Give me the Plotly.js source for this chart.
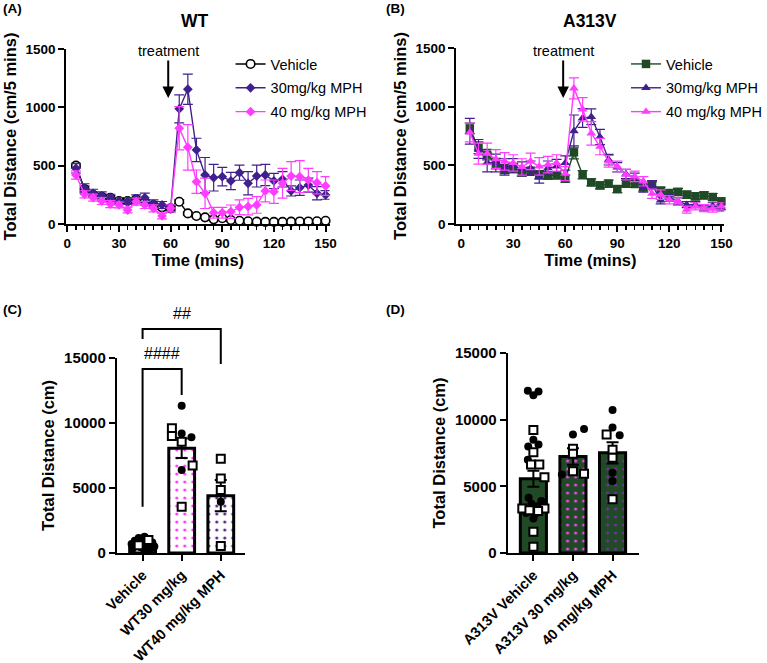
<!DOCTYPE html>
<html><head><meta charset="utf-8">
<script src="https://cdn.plot.ly/plotly-3.0.1.min.js"></script>
<style>html,body{margin:0;padding:0;background:#fff}#chart{width:767px;height:663px}</style>
</head><body><div id="chart"></div>
<script>
// ---------- DATA ----------
const time = [5,10,15,20,25,30,35,40,45,50,55,60,65,70,75,80,85,90,95,100,105,110,115,120,125,130,135,140,145,150];

// Panel A (WT)
const wtVehicle    = [500,300,250,234,225,197,197,211,191,163,143,134,191,91,69,57,40,49,34,28,23,20,18,18,18,20,22,22,24,28];
const wtVehicleSem = [20,25,20,20,18,18,18,18,18,15,15,15,15,12,10,10,8,8,6,6,5,5,5,5,5,5,5,5,5,5];
const wt30         = [477,305,263,240,225,197,197,214,225,171,163,134,987,1155,635,420,397,406,369,440,349,411,420,369,383,283,311,334,263,249];
const wt30Sem      = [40,40,35,35,30,30,30,35,40,35,30,30,120,130,100,150,114,80,74,65,100,94,91,65,66,43,66,60,57,37];
const wt40         = [420,254,226,197,171,163,120,191,163,134,69,134,821,657,363,263,97,97,106,143,149,163,283,277,349,411,406,377,354,326];
const wt40Sem      = [35,30,30,30,30,25,25,30,30,30,25,30,185,195,100,130,46,46,57,63,71,71,94,100,128,123,137,100,95,80];

// Panel B (A313V)
const aVehicle    = [815,650,591,514,469,477,443,449,420,412,415,386,611,420,355,329,344,298,344,341,312,329,284,264,273,250,236,244,230,193];
const aVehicleSem = [45,50,45,45,40,40,35,35,35,30,30,30,56,35,30,30,30,30,30,30,30,30,30,30,30,30,30,30,30,30];
const a30         = [790,640,525,520,486,497,469,477,398,477,491,520,792,903,914,742,548,483,426,398,307,335,202,222,193,165,165,136,156,136];
const a30Sem      = [110,80,80,75,70,60,60,60,50,60,60,60,137,80,67,65,45,40,40,35,35,35,30,30,30,25,25,25,25,25];
const a40         = [780,600,600,554,534,520,486,534,491,506,520,429,1156,977,773,660,534,491,420,406,364,258,250,207,193,122,151,136,131,151];
const a40Sem      = [80,90,90,80,75,70,70,70,75,70,70,60,90,100,100,70,50,45,45,45,40,40,40,35,35,30,30,30,30,30];

const seriesNames = ['Vehicle','30mg/kg MPH','40 mg/kg MPH'];

// Panel C (WT totals)
const wtGroups = ['Vehicle','WT30 mg/kg','WT40 mg/kg MPH'];
const wtMeans  = [650, 8050, 4410];
const wtSems   = [80, 750, 1200];
const wtVehVals    = [1250,1150,1000,950,850,800,700,650,600,500,450,350,300,200];
const wtVehShapes  = ['c','c','s','c','c','c','c','c','s','c','c','c','c','c'];
const wtVehOffsets = [0.05,-0.1,0.15,-0.2,0.0,0.25,-0.28,0.12,-0.1,0.3,-0.05,-0.25,0.2,0.05];
const wt30Vals    = [11330,9590,9000,8560,9200,8900,6380,6740,3560];
const wt30Shapes  = ['c','s','s','s','c','c','c','s','s'];
const wt30Offsets = [0,-0.25,-0.25,0,0,0.25,0,0.28,0];
const wt40Vals    = [7250,5740,4850,3950,540];
const wt40Shapes  = ['s','s','s','c','s'];
const wt40Offsets = [0,0,0,0,0];
// significance brackets
const brackets = [
  {a:0, b:1, top:14150, leftEnd:3560,  rightEnd:12150, label:'####', labelY:15380},
  {a:0, b:2, top:17230, leftEnd:16460, rightEnd:14530, label:'##',   labelY:18460}
];

// Panel D (A313V totals)
const aGroups = ['A313V Vehicle','A313V 30 mg/kg','40 mg/kg MPH'];
const aMeans  = [5570, 7240, 7510];
const aSems   = [600, 620, 790];
const aVehVals    = [12160,12110,11840,9230,8500,7980,8130,7560,6990,6640,6640,5690,4150,3900,3700,3500,3330,3330,3200,3150,3000,2950,2590,1590,470];
const aVehShapes  = ['c','c','c','s','c','c','c','s','c','s','s','s','c','c','c','c','s','s','s','s','c','c','c','s','s'];
const aVehOffsets = [-0.14,0.13,0,0,0,-0.13,0.13,0,-0.14,-0.06,0.15,0.28,-0.12,0.2,-0.05,0.1,-0.28,0.28,-0.1,0.12,-0.18,0.05,0,0,0];
const a30Vals    = [9300,8880,7810,7440,6140,5950,5890];
const a30Shapes  = ['c','c','s','s','s','s','c'];
const a30Offsets = [0.28,0,0,0,0,0.28,-0.28];
const a40Vals    = [10720,9420,8880,8830,7740,7140,6020,5400,4030];
const a40Shapes  = ['c','c','s','c','s','s','c','c','s'];
const a40Offsets = [0,0,-0.15,0.18,0,0,0,0,0];

// ---------- STYLE ----------
const W = 767, H = 663;
const FONT = 'Liberation Sans, Arial, sans-serif';
const PURPLE = '#40208c', MAGENTA = '#ff3cff', GREEN = '#1f4a25';
const px = v => v / W, py = v => 1 - v / H;

const traces = [];
function lineTrace(y, sem, name, color, symbol, size, xa, ya, legend, fill, lineColor) {
  return {
    type:'scatter', mode:'lines+markers', x: time, y: y, name: name,
    xaxis: xa, yaxis: ya, legend: legend, legendgroup: legend + name,
    line:{color: lineColor || color, width:1.4},
    marker:{symbol: symbol, size: size, color: fill || color, line:{color: lineColor || color, width: fill ? 1.6 : 0}},
    error_y:{type:'data', array: sem, color: lineColor || color, thickness:1.2, width:5},
    cliponaxis:false
  };
}
// Panel A
traces.push(lineTrace(wtVehicle, wtVehicleSem, seriesNames[0], 'black', 'circle', 8.5, 'x', 'y', 'legend', 'white', 'black'));
traces.push(lineTrace(wt30, wt30Sem, seriesNames[1], PURPLE, 'diamond', 7.5, 'x', 'y', 'legend'));
traces.push(lineTrace(wt40, wt40Sem, seriesNames[2], MAGENTA, 'diamond', 7.5, 'x', 'y', 'legend'));
// Panel B
traces.push(lineTrace(aVehicle, aVehicleSem, seriesNames[0], GREEN, 'square', 8.5, 'x2', 'y2', 'legend2'));
traces.push(lineTrace(a30, a30Sem, seriesNames[1], PURPLE, 'triangle-up', 8.5, 'x2', 'y2', 'legend2'));
traces.push(lineTrace(a40, a40Sem, seriesNames[2], MAGENTA, 'triangle-up', 8.5, 'x2', 'y2', 'legend2'));

// Bars
function barTrace(means, sems, baseColor, fg, xa, ya) {
  return {
    type:'bar', x:[0,1,2], y: means, width:0.66, xaxis: xa, yaxis: ya, showlegend:false,
    marker:{color: baseColor, line:{color:'black', width:3},
      pattern:{shape:['','.','.'], fillmode:'replace', fgcolor: fg, bgcolor: baseColor, size:8, solidity:0.12}},
    error_y:{type:'data', array: sems, color:'black', thickness:2, width:6}
  };
}
traces.push(barTrace(wtMeans, wtSems, 'white', ['white', MAGENTA, '#5a2a8a'], 'x3', 'y3'));
traces.push(barTrace(aMeans, aSems, GREEN, [GREEN, MAGENTA, '#7a2aa8'], 'x4', 'y4'));

// Individual points
function pointTraces(vals, shapes, offs, gi, xa, ya) {
  const out = [];
  [['c', {symbol:'circle', size:8, color:'black'}],
   ['s', {symbol:'square', size:8, color:'white', line:{color:'black', width:2}}]].forEach(([k, m]) => {
    const xs = [], ys = [];
    vals.forEach((v, i) => { if (shapes[i] === k) { xs.push(gi + offs[i]); ys.push(v); } });
    out.push({type:'scatter', mode:'markers', x: xs, y: ys, xaxis: xa, yaxis: ya, marker: m, showlegend:false, cliponaxis:false});
  });
  return out;
}
traces.push(...pointTraces(wtVehVals, wtVehShapes, wtVehOffsets, 0, 'x3', 'y3'));
traces.push(...pointTraces(wt30Vals, wt30Shapes, wt30Offsets, 1, 'x3', 'y3'));
traces.push(...pointTraces(wt40Vals, wt40Shapes, wt40Offsets, 2, 'x3', 'y3'));
traces.push(...pointTraces(aVehVals, aVehShapes, aVehOffsets, 0, 'x4', 'y4'));
traces.push(...pointTraces(a30Vals, a30Shapes, a30Offsets, 1, 'x4', 'y4'));
traces.push(...pointTraces(a40Vals, a40Shapes, a40Offsets, 2, 'x4', 'y4'));

// ---------- AXES ----------
const tickFontSmall = {family: FONT, size:13.5, color:'black', weight:'bold'};
const tickFontBig   = {family: FONT, size:15, color:'black', weight:'bold'};
const catFont       = {family: FONT, size:14.5, color:'black', weight:'bold'};
const titleFont     = {family: FONT, size:16.5, color:'black', weight:'bold'};
const base = {showline:true, linecolor:'black', linewidth:2, ticks:'outside', ticklen:6, tickwidth:2,
  tickcolor:'black', showgrid:false, zeroline:false, fixedrange:true, tickformat:'d'};

const axA = {x:{d:[67,333], r:[-0.6,152.3]}, y:{d:[224,49], r:[0,1500]}};
const axB = {x:{d:[461,732], r:[-2.85,151.7]}, y:{d:[224,48], r:[0,1500]}};
const axC = {x:{d:[118,248], r:[-0.66,2.63]}, y:{d:[553,358], r:[0,15000]}};
const axD = {x:{d:[513,646], r:[-0.65,2.675]}, y:{d:[553,353], r:[0,15000]}};

function timeX(a, anchor) {
  return Object.assign({}, base, {domain:[px(a.x.d[0]), px(a.x.d[1])], range:a.x.r, anchor: anchor,
    tick0:0, dtick:30, tickfont: tickFontSmall,
    minor:{tick0:0, dtick:5, ticks:'outside', ticklen:4, tickwidth:1.5, tickcolor:'black'},
    title:{text:'Time (mins)', font: titleFont, standoff:3}});
}
function distY(a, anchor, title, tf, dt) {
  return Object.assign({}, base, {domain:[py(a.y.d[0]), py(a.y.d[1])], range:a.y.r, anchor: anchor,
    tick0:0, dtick: dt, tickfont: tf, title:{text: title, font: titleFont, standoff:5}});
}
function catX(a, anchor, labels) {
  return Object.assign({}, base, {domain:[px(a.x.d[0]), px(a.x.d[1])], range:a.x.r, anchor: anchor,
    tickmode:'array', tickvals:[0,1,2], ticktext: labels, tickangle:-45, tickfont: catFont, automargin:false});
}

// paper coordinates from panel C data values
function cx(x) { return px(axC.x.d[0] + (x - axC.x.r[0]) / (axC.x.r[1] - axC.x.r[0]) * (axC.x.d[1] - axC.x.d[0])); }
function cy(y) { return py(axC.y.d[0] + (y - axC.y.r[0]) / (axC.y.r[1] - axC.y.r[0]) * (axC.y.d[1] - axC.y.d[0])); }

const shapes = brackets.map(b => ({
  type:'path', xref:'paper', yref:'paper',
  path:`M${cx(b.a)},${cy(b.leftEnd)} L${cx(b.a)},${cy(b.top)} L${cx(b.b)},${cy(b.top)} L${cx(b.b)},${cy(b.rightEnd)}`,
  line:{color:'black', width:2}
}));

const lab = (t, x, y, size, bold, anchor) => ({text:t, x:px(x), y:py(y), xref:'paper', yref:'paper',
  xanchor: anchor || 'center', yanchor:'middle', showarrow:false,
  font:{family:FONT, size:size, color:'black', weight: bold ? 'bold' : 'normal'}});

const annotations = [
  lab('(A)', 1, 9, 13.5, true, 'left'),
  lab('(B)', 388, 9, 13.5, true, 'left'),
  lab('(C)', 1, 309, 13.5, true, 'left'),
  lab('(D)', 388, 309, 13.5, true, 'left'),
  lab('WT', 197, 21, 17.5, true),
  lab('A313V', 596, 21, 17.5, true),
  {text:'treatment', x:58.6, y:1081, xref:'x', yref:'y', ax:0, ay:-47, showarrow:true, arrowhead:2, arrowsize:1.15, arrowwidth:2, arrowcolor:'black', font:{family:FONT, size:14.5, color:'black'}},
  {text:'treatment', x:58.8, y:1073, xref:'x2', yref:'y2', ax:0, ay:-47, showarrow:true, arrowhead:2, arrowsize:1.15, arrowwidth:2, arrowcolor:'black', font:{family:FONT, size:14.5, color:'black'}}
];
brackets.forEach(b => annotations.push({text:b.label, x:cx((b.a + b.b) / 2), y:cy(b.labelY), xref:'paper', yref:'paper',
  xanchor:'center', yanchor:'middle', showarrow:false, font:{family:FONT, size:16, color:'black'}}));

const legendBase = {xanchor:'left', yanchor:'top', font:{family:FONT, size:14.5, color:'black'}, bgcolor:'rgba(0,0,0,0)',
  traceorder:'grouped', tracegroupgap:2, itemwidth:30};

const layout = {
  width: W, height: H, margin:{l:0, r:0, t:0, b:0}, paper_bgcolor:'white', plot_bgcolor:'white',
  font:{family: FONT, color:'black'},
  xaxis: timeX(axA, 'y'), yaxis: distY(axA, 'x', 'Total Distance (cm/5 mins)', tickFontSmall, 500),
  xaxis2: timeX(axB, 'y2'), yaxis2: distY(axB, 'x2', 'Total Distance (cm/5 mins)', tickFontSmall, 500),
  xaxis3: catX(axC, 'y3', wtGroups), yaxis3: distY(axC, 'x3', 'Total Distance (cm)', tickFontBig, 5000),
  xaxis4: catX(axD, 'y4', aGroups), yaxis4: distY(axD, 'x4', 'Total Distance (cm)', tickFontBig, 5000),
  legend: Object.assign({}, legendBase, {x:px(233), y:py(48)}),
  legend2: Object.assign({}, legendBase, {x:px(633), y:py(48)}),
  shapes: shapes, annotations: annotations, bargap:0, showlegend:true
};

Plotly.newPlot('chart', traces, layout, {displayModeBar:false, staticPlot:true});
</script></body></html>
